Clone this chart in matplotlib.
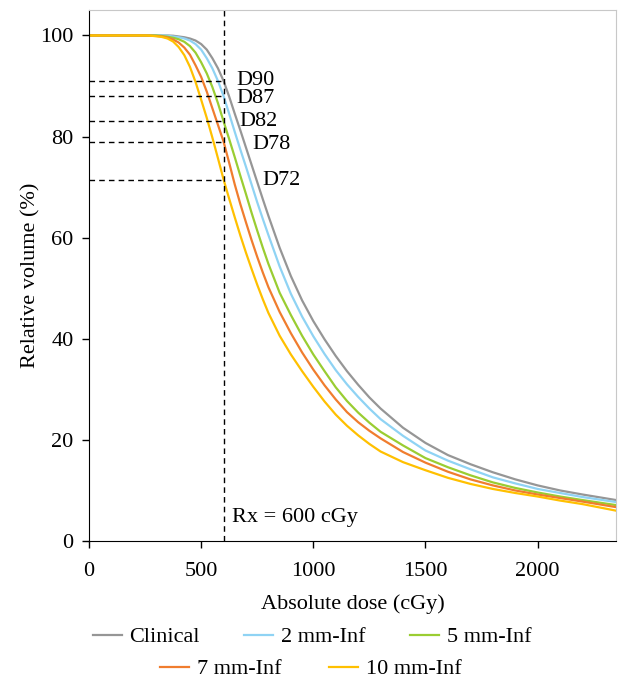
import matplotlib.pyplot as plt
from matplotlib.lines import Line2D

plt.rcParams['font.family'] = ['Liberation Serif', 'DejaVu Serif']
plt.rcParams['font.size'] = 16

# dose grid (cGy) and relative volume (%) for each plan, read from the DVH
dose = [0, 250, 275, 300, 325, 350, 375, 400, 425, 450, 475, 500, 525, 550, 575,
        600, 625, 650, 675, 700, 725, 750, 775, 800, 850, 900, 950, 1000, 1050,
        1100, 1150, 1200, 1250, 1300, 1400, 1500, 1600, 1700, 1800, 1900, 2000,
        2100, 2200, 2350]
clinical = [100, 100, 100, 100, 100, 100, 99.95, 99.8, 99.65, 99.4, 99.0, 98.3, 97.2, 95.5, 93.5,
            91.0, 87.9, 84.5, 81.2, 77.8, 74.4, 71.0, 67.6, 64.3, 58.0, 52.4, 47.6, 43.5, 39.9,
            36.6, 33.6, 30.9, 28.4, 26.2, 22.4, 19.4, 17.0, 15.2, 13.6, 12.2, 11.0,
            10.0, 9.2, 8.1]
mm2 = [100, 100, 100, 100, 100, 99.95, 99.8, 99.65, 99.4, 99.0, 98.3, 97.2, 95.5, 93.5, 91.0,
       88.0, 84.5, 80.9, 77.4, 74.0, 70.5, 67.0, 63.7, 60.5, 54.3, 48.9, 44.4, 40.5, 37.0,
       33.8, 31.0, 28.5, 26.2, 24.1, 20.8, 17.9, 15.9, 14.2, 12.6, 11.4, 10.3,
       9.5, 8.7, 7.7]
mm5 = [100, 100, 100, 100, 99.9, 99.75, 99.55, 99.25, 98.75, 97.9, 96.6, 94.7, 92.5, 89.8, 86.6,
       83.0, 79.5, 75.9, 72.2, 68.6, 64.9, 61.4, 58.0, 54.8, 49.1, 44.7, 40.6, 36.9, 33.6,
       30.4, 27.7, 25.4, 23.4, 21.6, 18.9, 16.4, 14.6, 13.0, 11.6, 10.5, 9.6,
       8.8, 8.1, 7.1]
mm7 = [100, 100, 99.95, 99.9, 99.8, 99.6, 99.2, 98.6, 97.6, 96.2, 94.1, 91.8, 88.9, 85.6, 82.3,
       79.0, 74.8, 70.5, 66.6, 63.0, 59.5, 56.2, 53.1, 50.2, 45.3, 41.1, 37.3, 33.9, 30.8,
       28.0, 25.5, 23.5, 21.8, 20.3, 17.6, 15.5, 13.7, 12.2, 11.0, 10.0, 9.2,
       8.5, 7.8, 6.7]
mm10 = [100, 100, 99.95, 99.85, 99.7, 99.4, 98.8, 97.7, 96.1, 93.8, 90.8, 87.3, 83.7, 79.8, 75.7,
        71.5, 67.7, 64.0, 60.4, 57.0, 53.8, 50.7, 47.8, 45.1, 40.6, 36.9, 33.6, 30.5, 27.6,
        25.0, 22.8, 20.9, 19.2, 17.7, 15.6, 14.0, 12.5, 11.3, 10.3, 9.5, 8.8,
        8.0, 7.3, 6.0]

labels = ['Clinical', '2 mm-Inf', '5 mm-Inf', '7 mm-Inf', '10 mm-Inf']
colors = ['#969696', '#8fd3f4', '#9acd32', '#f07d2e', '#ffc000']

rx = 600
rx_vals = [91.0, 88.0, 83.0, 79.0, 71.5]
rx_names = ['D90', 'D87', 'D82', 'D78', 'D72']
label_pos = [(655, 91.0), (655, 87.6), (672, 83.0), (728, 78.4), (772, 71.3)]

fig = plt.figure(figsize=(6.18, 6.8), dpi=100)
ax = fig.add_axes([0.144, 0.2044, 0.853, 0.7806])

for y, c, lab in zip([clinical, mm2, mm5, mm7, mm10], colors, labels):
    ax.plot(dose, y, color=c, lw=1.6, label=lab, solid_joinstyle='round')

ax.axvline(rx, color='black', lw=1.0, ls=(0, (4, 3)))
for v in rx_vals:
    ax.plot([0, rx], [v, v], color='black', lw=1.0, ls=(0, (4, 3)))
for name, (px, py) in zip(rx_names, label_pos):
    ax.text(px, py, name, va='center', ha='left')
ax.text(638, 4.6, 'Rx = 600 cGy', va='center', ha='left')

ax.set_xlim(0, 2350)
ax.set_ylim(0, 105)
ax.set_xticks([0, 500, 1000, 1500, 2000])
ax.set_yticks([0, 20, 40, 60, 80, 100])
ax.tick_params(direction='out', length=5, width=1, pad=6)
ax.tick_params(axis='x', pad=10)
ax.set_xlabel('Absolute dose (cGy)', labelpad=10)
ax.set_ylabel('Relative volume (%)', labelpad=0)
for s in ['top', 'right']:
    ax.spines[s].set_color('#c8c8c8')

handles = [Line2D([], [], color=c, lw=1.6) for c in colors]
kw = dict(frameon=False, handlelength=1.3, handletextpad=0.35, loc='center',
          borderpad=0, borderaxespad=0)
fig.legend(handles[:3], labels[:3], ncol=3, columnspacing=2.0,
           bbox_to_anchor=(0.505, 0.063), **kw)
fig.legend(handles[3:], labels[3:], ncol=2, columnspacing=2.15,
           bbox_to_anchor=(0.503, 0.016), **kw)

fig.savefig('out.png', dpi=100)
